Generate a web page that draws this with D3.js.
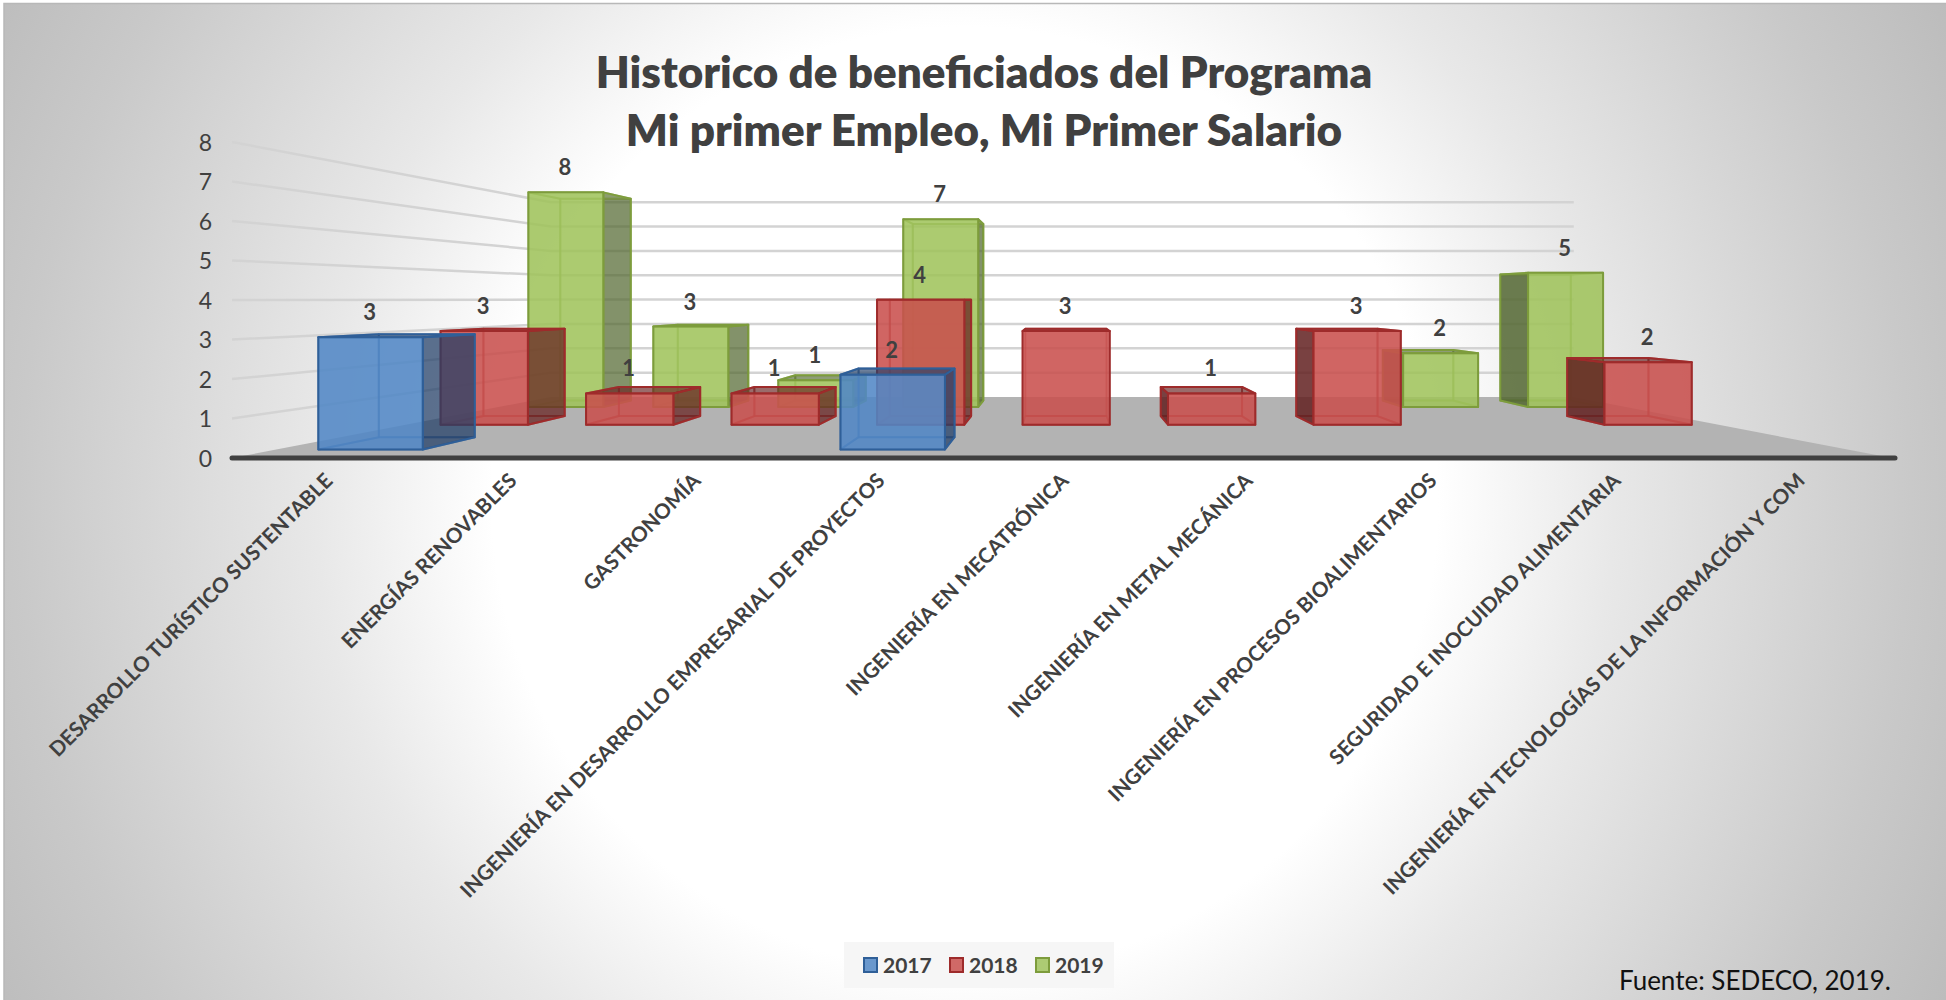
<!DOCTYPE html>
<html><head><meta charset="utf-8">
<script src="https://cdnjs.cloudflare.com/ajax/libs/d3/7.8.5/d3.min.js"></script>
<style>html,body{margin:0;padding:0;background:#fff}svg{display:block}text{font-family:Lato,"Open Sans",sans-serif}</style>
</head><body><script>
const categories = ["DESARROLLO TURÍSTICO SUSTENTABLE","ENERGÍAS RENOVABLES","GASTRONOMÍA","INGENIERÍA EN DESARROLLO EMPRESARIAL DE PROYECTOS","INGENIERÍA EN MECATRÓNICA","INGENIERÍA EN METAL MECÁNICA","INGENIERÍA EN PROCESOS BIOALIMENTARIOS","SEGURIDAD E INOCUIDAD ALIMENTARIA","INGENIERÍA EN TECNOLOGÍAS DE LA INFORMACIÓN Y COM"];
const years = ["2017","2018","2019"];
const values2017 = [3,null,null,2,null,null,null,null,null];
const values2018 = [3,1,1,4,3,1,3,null,2];
const values2019 = [8,3,1,7,null,null,null,2,5];
const seriesValues = {"2017":values2017,"2018":values2018,"2019":values2019};
const titleLines = ["Historico de beneficiados del Programa","Mi primer Empleo, Mi Primer Salario"];
const sourceText = "Fuente: SEDECO, 2019.";
const yTicks = [0,1,2,3,4,5,6,7,8];
const palette = {"2017":{fill:"#5187c6",stroke:"#2f5f98",side:"#1f3a60"},"2018":{fill:"#c9504e",stroke:"#9e2b2b",side:"#5e1f1e"},"2019":{fill:"#a0c35c",stroke:"#7d9c3c",side:"#4f6330"}};

const W=1946,H=1000;
const svg=d3.select("body").append("svg").attr("width",W).attr("height",H);
const defs=svg.append("defs");
const grad=defs.append("radialGradient").attr("id","bg").attr("gradientUnits","userSpaceOnUse")
  .attr("cx",965).attr("cy",500).attr("r",1100);
[[0,"#ffffff"],[.43,"#ffffff"],[.59,"#e8e8e8"],[.86,"#c9c9c9"],[1,"#bcbcbc"]].forEach(s=>grad.append("stop").attr("offset",s[0]).attr("stop-color",s[1]));
svg.append("rect").attr("x",4).attr("y",3).attr("width",W-4).attr("height",H-3).attr("fill","url(#bg)");
svg.append("path").attr("d",`M4,${H}V3.5H${W}`).attr("fill","none").attr("stroke","#b8b8b8").attr("stroke-width",1.5);

// scales on the front plane of the perspective box
const L=232,R=1892;
const x=d3.scaleBand().domain(categories).range([239,1895]).paddingInner(.4).paddingOuter(.2);
const y=d3.scaleLinear().domain([0,8]).range([458,142]);
const depthMax=.623;
const z=d3.scaleBand().domain(years).range([0,depthMax]).paddingInner(.55).paddingOuter(.275);
const vp={x:1063,y:299};
const P=(px,py,d)=>{const s=1/(1+d);return [vp.x+(px-vp.x)*s,vp.y+(py-vp.y)*s];};
const poly=pts=>"M"+pts.map(p=>p.join(",")).join("L")+"Z";

// axes
const xAxis=d3.axisBottom(x).tickSize(0).tickPadding(0);
const yAxis=d3.axisLeft(y).tickValues(yTicks).tickFormat(d3.format("d")).tickSize(0).tickPadding(20);

// floor and walls
svg.append("path").attr("d",poly([P(L,y(0),0),P(L,y(0),depthMax),P(R,y(0),depthMax),P(R,y(0),0)])).attr("fill","#b3b3b3");
const grid=svg.append("g").attr("fill","none").attr("stroke","#d3d3d3").attr("stroke-width",2.5);
yTicks.filter(t=>t>0).forEach(t=>{
  grid.append("path").attr("d","M"+[P(L,y(t),0),P(L,y(t),depthMax),P(R,y(t),depthMax)].map(p=>p.join(",")).join("L"));
});

// bars, back row first
const bars=svg.append("g");
years.slice().reverse().forEach(yr=>{
  const c=palette[yr];
  categories.forEach((cat,i)=>{
    const v=seriesValues[yr][i];
    if(v==null) return;
    const x0=x(cat),x1=x0+x.bandwidth(),d0=z(yr),d1=d0+z.bandwidth(),yb=y(0),yt=y(v);
    const g=bars.append("g").attr("stroke",c.stroke).attr("stroke-width",2).attr("stroke-linejoin","round");
    const ghost=pts=>g.append("path").attr("d",poly(pts)).attr("fill",c.fill).attr("fill-opacity",.18).attr("stroke-opacity",.55);
    const solid=(pts,fill,op)=>g.append("path").attr("d",poly(pts)).attr("fill",fill).attr("fill-opacity",op);
    const FL=[P(x0,yb,d0),P(x0,yt,d0),P(x0,yt,d1),P(x0,yb,d1)];
    const FR=[P(x1,yb,d0),P(x1,yt,d0),P(x1,yt,d1),P(x1,yb,d1)];
    const TOP=[P(x0,yt,d0),P(x1,yt,d0),P(x1,yt,d1),P(x0,yt,d1)];
    const BOT=[P(x0,yb,d0),P(x1,yb,d0),P(x1,yb,d1),P(x0,yb,d1)];
    ghost([P(x0,yb,d1),P(x1,yb,d1),P(x1,yt,d1),P(x0,yt,d1)]);
    ghost(BOT);
    if(x1<vp.x) ghost(FL); else if(x0>vp.x) ghost(FR);
    if(x1<vp.x) solid(FR,c.side,.68);
    if(x0>vp.x) solid(FL,c.side,.82);
    if(yt>vp.y) solid(TOP,c.side,.6); else ghost(TOP);
    solid([P(x0,yb,d0),P(x1,yb,d0),P(x1,yt,d0),P(x0,yt,d0)],c.fill,.85);
  });
});

// data labels
const labels=svg.append("g").attr("text-anchor","middle").attr("font-size",22).attr("font-weight",700).attr("fill","#404040");
years.forEach(yr=>categories.forEach((cat,i)=>{
  const v=seriesValues[yr][i];
  if(v==null) return;
  const p=P(x(cat)+x.bandwidth()/2,y(v),z(yr));
  labels.append("text").attr("x",p[0]-1).attr("y",p[1]-17).text(v);
}));

// y axis
const gy=svg.append("g").attr("transform",`translate(${L},1)`).call(yAxis);
gy.select(".domain").remove();
gy.selectAll("text").attr("font-size",23).attr("fill","#404040").style("font-family","Lato");

// x axis
const gx=svg.append("g").attr("transform",`translate(0,${y(0)})`).call(xAxis);
gx.select(".domain").attr("d",`M${L},0H${R+3}`).attr("stroke","#404040").attr("stroke-width",5).attr("stroke-linecap","round");
gx.selectAll("text").attr("font-size",20.7).attr("font-weight",700).attr("fill","#404040")
  .style("font-family","Lato").attr("text-anchor","end").attr("dy",0).attr("y",0)
  .attr("transform","translate(3,24) rotate(-45)");

// title
svg.append("g").attr("text-anchor","middle").attr("font-weight",800).attr("font-size",44).attr("fill","#404040")
  .selectAll("text").data(titleLines).join("text").attr("x",984).attr("y",(d,i)=>88+i*58).text(d=>d);

// legend
const lg=svg.append("g");
lg.append("rect").attr("x",844).attr("y",942).attr("width",270).attr("height",46).attr("fill","#f6f6f6");
const legendX=d3.scalePoint().domain(years).range([864,1036]);
years.forEach(yr=>{
  lg.append("rect").attr("x",legendX(yr)).attr("y",958).attr("width",13).attr("height",14).attr("fill",palette[yr].fill).attr("fill-opacity",.85).attr("stroke",palette[yr].stroke).attr("stroke-width",2);
  lg.append("text").attr("x",legendX(yr)+19).attr("y",973).attr("font-size",21).attr("font-weight",700).attr("fill","#404040").text(yr);
});
svg.append("text").attr("x",1891).attr("y",990).attr("text-anchor","end").attr("font-size",26).attr("fill","#111").text(sourceText);
</script></body></html>
